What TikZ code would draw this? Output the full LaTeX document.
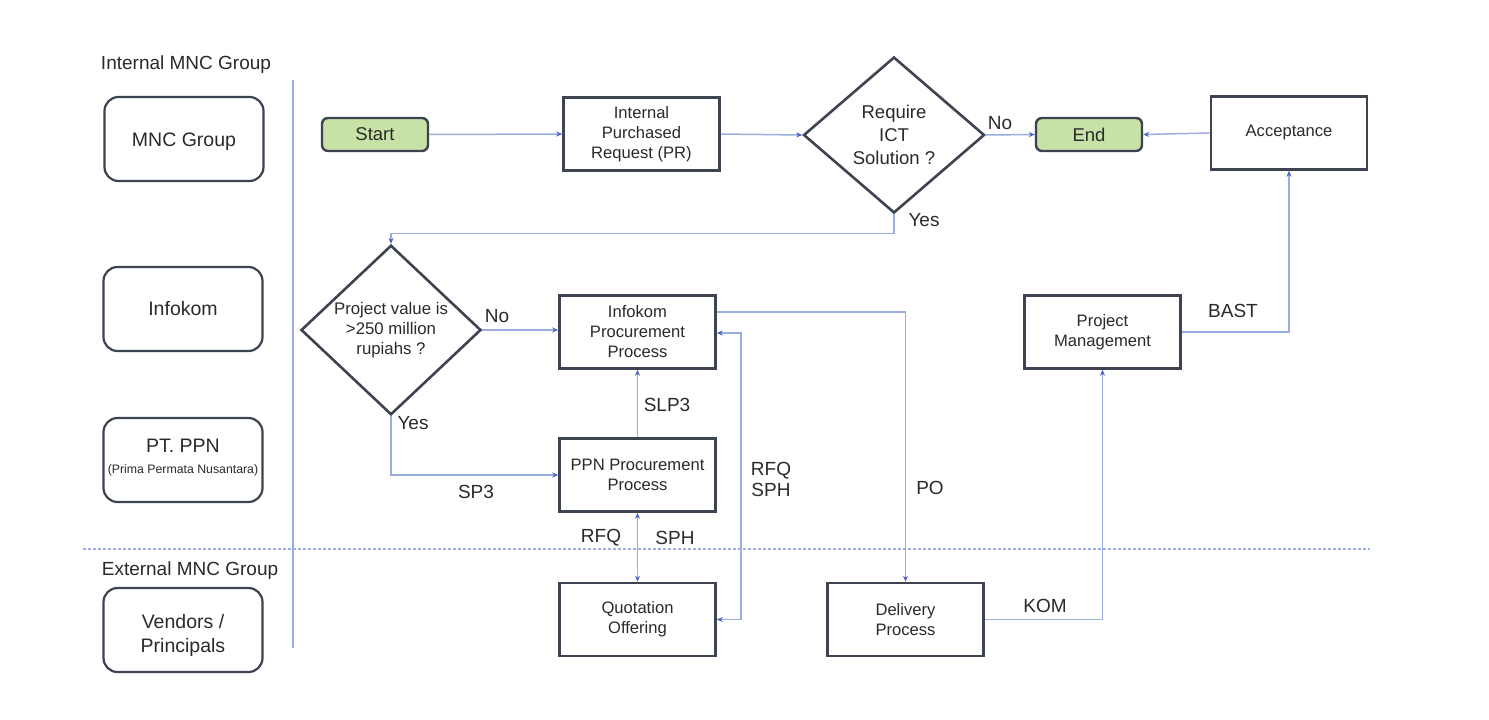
\documentclass[tikz,border=0pt]{standalone}
\usepackage{fontspec}
\setmainfont{Liberation Sans}
\usetikzlibrary{shapes.geometric,arrows.meta,calc}
\definecolor{boxline}{HTML}{3E4352}
\definecolor{connc}{HTML}{9AAEE0}
\definecolor{tipc}{HTML}{4A62C0}
\definecolor{txt}{HTML}{2A2A2A}
\definecolor{startg}{HTML}{C8E1A6}
\begin{document}
\begin{tikzpicture}[x=1pt,y=-1pt,
 proc/.style={draw=boxline,line width=2.6pt,minimum width=156pt,minimum height=73pt,inner sep=0pt,align=center,text=txt,font=\fontsize{16.6}{20}\selectfont},
 lane/.style={draw=boxline,line width=2.2pt,rounded corners=14pt,minimum width=159pt,minimum height=84pt,inner sep=0pt,align=center,text=txt,font=\fontsize{19.5}{25}\selectfont},
 lanetext/.style={text=txt,inner sep=0pt,align=center,font=\fontsize{19.5}{24}\selectfont},
 term/.style={draw=boxline,fill=startg,line width=2.4pt,rounded corners=6pt,minimum width=106pt,minimum height=33pt,inner sep=0pt,text=txt,font=\fontsize{18.5}{22}\selectfont},
 dec/.style={diamond,draw=boxline,line width=2.6pt,inner sep=0pt,align=center,text=txt},
 conn/.style={draw=connc,line width=1.5pt,-{Stealth[length=6pt,width=5pt,color=tipc]}},
 bconn/.style={draw=connc,line width=1.5pt,{Stealth[length=6pt,width=5pt,color=tipc]}-{Stealth[length=6pt,width=5pt,color=tipc]}},
 lbl/.style={text=txt,inner sep=0pt,align=center,font=\fontsize{19}{21}\selectfont}
]
\useasboundingbox[fill=white] (0,0) rectangle (1489,720);

% lanes
\draw[connc,line width=1.3pt] (293,80) -- (293,648);
\draw[connc,line width=1.2pt,dash pattern=on 3pt off 2pt] (83,549) -- (1370,549);

\node[lbl] (tint) at (186,65) {Internal MNC Group};
\node[lbl] (text) at (190,571) {External MNC Group};

\node[lane,label={[lanetext,yshift=-2.5pt]center:MNC Group}] (mnc) at (184,139) {};
\node[lane] (inf) at (183,309) {Infokom};
\node[lane,label={[lanetext,yshift=2pt]center:{PT. PPN\\[-3pt]{\fontsize{12.3}{13}\selectfont (Prima Permata Nusantara)}}}] (ppnl) at (183,460) {};
\node[lane,label={[lanetext,yshift=-5pt]center:{Vendors /\\Principals}}] (ven) at (183,630) {};

% process nodes
\node[term] (start) at (375,134.5) {Start};
\node[proc] (pr) at (641.5,134) {Internal\\Purchased\\Request (PR)};
\node[dec,minimum width=181pt,minimum height=156pt,font=\fontsize{18.5}{23}\selectfont] (d1) at (894,135) {Require\\ICT\\Solution ?};
\node[term] (end) at (1089,134.5) {End};
\node[proc] (acc) at (1289,133) {Acceptance};

\node[dec,minimum width=180pt,minimum height=154pt,font=\fontsize{16.8}{20}\selectfont] (d2) at (391,330) {Project value is\\>250 million\\rupiahs ?};
\node[proc] (ipp) at (637.5,332) {Infokom\\Procurement\\Process};
\node[proc] (ppn) at (637.5,475) {PPN Procurement\\Process};
\node[proc] (quo) at (637.5,619.5) {Quotation\\Offering};
\node[proc] (del) at (905.5,619.5) {Delivery\\Process};
\node[proc] (pm) at (1102.5,332) {Project\\Management};

% connectors
\draw[conn] (start.east) -- (pr.west);
\draw[conn] (pr.east) -- (d1.west);
\draw[conn] (d1.east) -- (end.west);
\draw[conn] (acc.west) -- (end.east);
\draw[conn] (d1.south) -- ++(0,19) -| (d2.north);
\draw[conn] (d2.east) -- (d2.east -| ipp.west);
\draw[conn] (d2.south) |- (ppn.west);
\draw[conn] (ppn.north) -- (ipp.south);
\draw[bconn] (ppn.south) -- (quo.north);
\draw[bconn] (quo.east) -- ++(24,0) |- ($(ipp.east)+(0,1)$);
\draw[conn] ($(ipp.east)+(0,-20)$) -| (del.north);
\draw[conn] (del.east) -| (pm.south);
\draw[conn] (pm.east) -| (acc.south);

% labels
\node[lbl] (lno1) at (1000,123) {No};
\node[lbl] (lyes1) at (924,220) {Yes};
\node[lbl] (lno2) at (497,316) {No};
\node[lbl] (lyes2) at (413,423) {Yes};
\node[lbl] (lsp3) at (476,492) {SP3};
\node[lbl] (lslp3) at (667,405) {SLP3};
\node[lbl] (lrfqsph) at (771,479) {RFQ\\SPH};
\node[lbl] (lrfq) at (601,538) {RFQ};
\node[lbl] (lsph) at (675,538) {SPH};
\node[lbl] (lpo) at (930,488) {PO};
\node[lbl] (lkom) at (1045,606) {KOM};
\node[lbl] (lbast) at (1233,311) {BAST};
\end{tikzpicture}
\end{document}
